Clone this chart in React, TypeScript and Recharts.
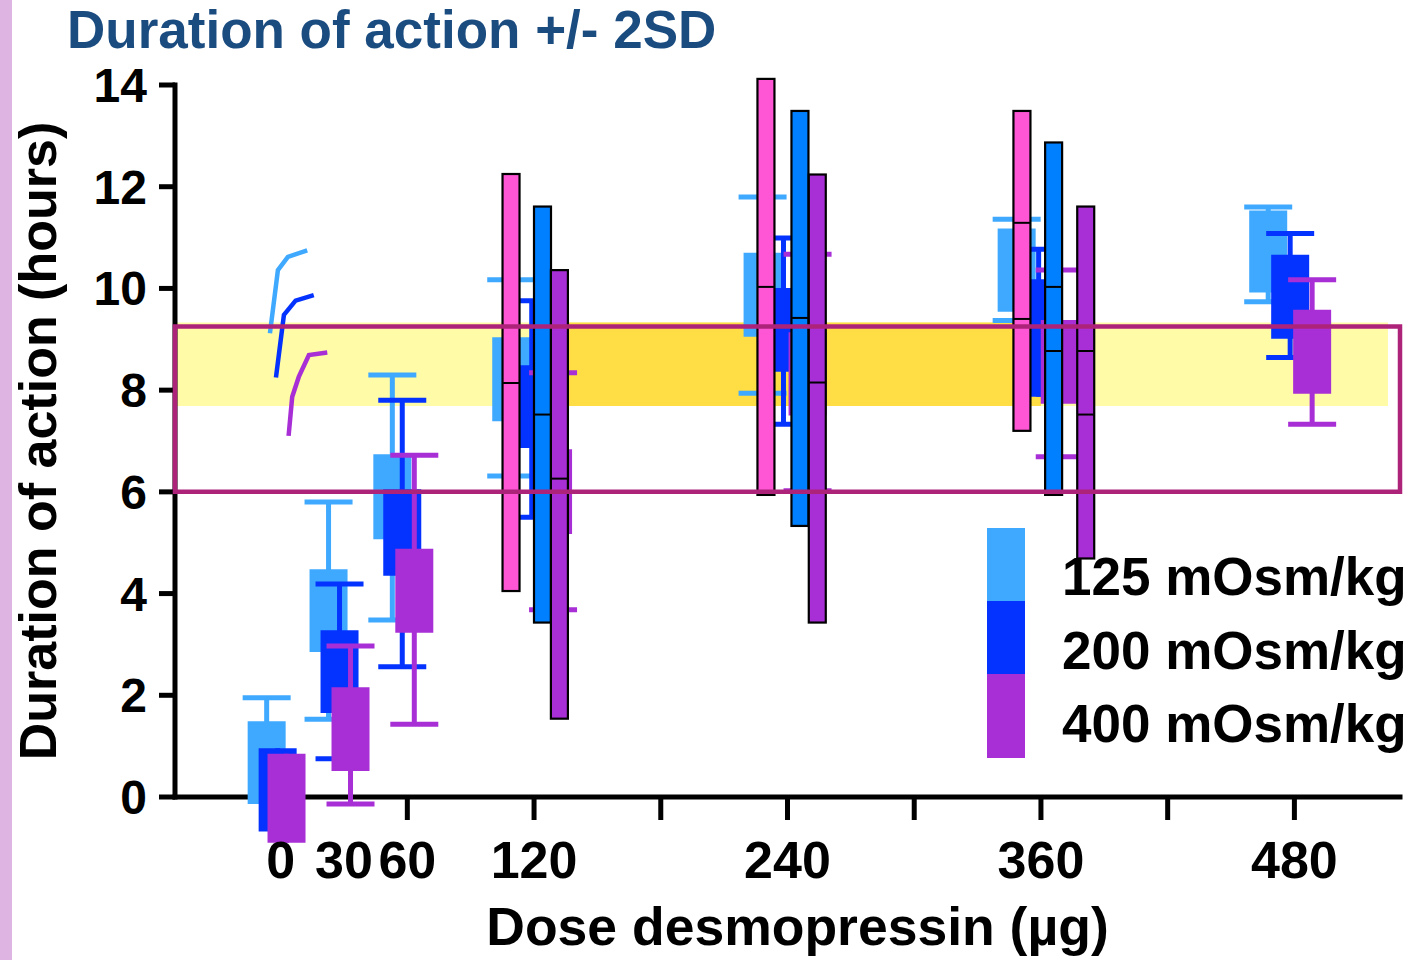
import React from 'react';
import {
  ComposedChart,
  XAxis,
  YAxis,
  Scatter,
  ErrorBar,
  Bar,
  Line,
  ReferenceArea,
  Label,
} from 'recharts';

const FONT = '"Liberation Sans", Arial, Helvetica, sans-serif';

// dose axis (µg)
const doseLabels = [0, 30, 60, 120, 240, 360, 480];
const doseTickMarks = [60, 120, 180, 240, 300, 360, 420, 480];
const hourTicks = [0, 2, 4, 6, 8, 10, 12, 14];

// 125 mOsm/kg: box position, box low/high, -/+ 2SD ends (hours)
const x125 = [-6.6, 22.7, 52.9, 109.2, 228.2, 348.5, 467.6];
const boxLow125 = [-0.14, 2.85, 5.07, 7.39, 9.05, 9.54, 9.92];
const boxHigh125 = [1.49, 4.48, 6.74, 9.04, 10.7, 11.18, 11.53];
const sdLow125 = [null, 1.53, 3.48, 6.31, 7.94, 9.37, 9.74];
const sdHigh125 = [1.95, 5.8, 8.3, 10.17, 11.8, 11.36, 11.6];

// 200 mOsm/kg
const x200 = [-1.4, 27.9, 57.6, 118.9, 238.1, 358.9, 478];
const boxLow200 = [-0.68, 1.65, 4.35, 6.86, 8.36, 7.87, 9.01];
const boxHigh200 = [0.96, 3.28, 6.05, 8.49, 10.01, 10.18, 10.66];
const sdLow200 = [null, 0.75, 2.56, 5.5, 7.33, null, 8.64];
const sdHigh200 = [null, 4.19, 7.8, 9.76, 10.99, 10.77, 11.08];

// 400 mOsm/kg
const x400 = [2.8, 33.1, 63.3, 129.0, 249.5, 368.9, 488.4];
const boxLow400 = [-0.9, 0.51, 3.23, 5.17, 7.5, 7.73, 7.93];
const boxHigh400 = [0.85, 2.16, 4.88, 6.84, 9.14, 9.38, 9.58];
const sdLow400 = [null, -0.14, 1.43, 3.68, 6.02, 6.69, 7.33];
const sdHigh400 = [null, 2.97, 6.72, 8.34, 10.67, 10.36, 10.17];

// hand-drawn traces near 0 µg
const traceX125 = [-5.05, -1.28, 3.45, 12.6];
const traceY125 = [9.12, 10.36, 10.62, 10.75];
const traceX200 = [-2.2, 1.57, 7.09, 15.7];
const traceY200 = [8.25, 9.48, 9.76, 9.87];
const traceX400 = [3.78, 5.5, 8.6, 13.4, 22.1];
const traceY400 = [7.1, 7.87, 8.26, 8.69, 8.74];

// outlined range bars at 120 / 240 / 360 µg
const pinkX = [109.1, 229.8, 351.0];
const pinkLow = [4.05, 5.94, 7.2];
const pinkHigh = [12.25, 14.12, 13.49];
const pinkMarks = [[8.14], [10.03], [11.29, 9.4]];
const cyanX = [124.0, 245.9, 366.0];
const cyanLow = [3.43, 5.33, 5.94];
const cyanHigh = [11.61, 13.49, 12.87];
const cyanMarks = [[7.52], [9.42], [10.03, 8.77]];
const violetX = [132.0, 254.1, 381.2];
const violetLow = [1.54, 3.43, 4.69];
const violetHigh = [10.36, 12.24, 11.61];
const violetMarks = [[6.26], [8.15], [8.77, 7.52]];

// target window and shaded band
const targetLow = 6.0;
const targetHigh = 9.25;
const bandLow = 7.69;
const bandHigh = 9.33;
const bandEnd = 524.3;
const bandDarkStart = 120;
const bandDarkEnd = 360;

const legendNames = ['125 mOsm/kg', '200 mOsm/kg', '400 mOsm/kg'];

const COLORS: Record<string, string> = {
  s125: '#3FA9FF',
  s200: '#0433FF',
  s400: '#A82FD6',
  pink: '#FF56D6',
  cyan: '#0080FF',
  violet: '#A82FD6',
};

type Num = number | null;

function boxRows(xs: number[], lo: number[], hi: number[], sdLo: Num[], sdHi: Num[]) {
  return xs.map((x, i) => {
    const mid = (lo[i] + hi[i]) / 2;
    const a = sdLo[i] ?? lo[i];
    const b = sdHi[i] ?? hi[i];
    return { x, y: mid, box: [mid - lo[i], hi[i] - mid], sd: [mid - a, b - mid] };
  });
}

function capRows(xs: number[], sdLo: Num[], sdHi: Num[]) {
  const rows: { x: number; y: number }[] = [];
  xs.forEach((x, i) => {
    if (sdLo[i] != null) rows.push({ x, y: sdLo[i] as number });
    if (sdHi[i] != null) rows.push({ x, y: sdHi[i] as number });
  });
  return rows;
}

function traceRows(xs: number[], ys: number[]) {
  return xs.map((x, i) => ({ x, y: ys[i] }));
}

const series = [
  { key: 's125', boxes: boxRows(x125, boxLow125, boxHigh125, sdLow125, sdHigh125), caps: capRows(x125, sdLow125, sdHigh125) },
  { key: 's200', boxes: boxRows(x200, boxLow200, boxHigh200, sdLow200, sdHigh200), caps: capRows(x200, sdLow200, sdHigh200) },
  { key: 's400', boxes: boxRows(x400, boxLow400, boxHigh400, sdLow400, sdHigh400), caps: capRows(x400, sdLow400, sdHigh400) },
];

const traces = [
  { key: 's125', data: traceRows(traceX125, traceY125) },
  { key: 's200', data: traceRows(traceX200, traceY200) },
  { key: 's400', data: traceRows(traceX400, traceY400) },
];

const rangeRows: { x: number; range: number[]; kind: string }[] = [];
const markRows: { x: number; y: number }[] = [];
[0, 1, 2].forEach((g) => {
  [
    { kind: 'pink', xs: pinkX, lo: pinkLow, hi: pinkHigh, marks: pinkMarks },
    { kind: 'cyan', xs: cyanX, lo: cyanLow, hi: cyanHigh, marks: cyanMarks },
    { kind: 'violet', xs: violetX, lo: violetLow, hi: violetHigh, marks: violetMarks },
  ].forEach((s) => {
    rangeRows.push({ x: s.xs[g], range: [s.lo[g], s.hi[g]], kind: s.kind });
    s.marks[g].forEach((m) => markRows.push({ x: s.xs[g], y: m }));
  });
});

const allDoseTicks = Array.from(new Set([...doseLabels, ...doseTickMarks])).sort((a, b) => a - b);

const RANGE_W = 17;

const hidden = () => <g />;

const capShape = (color: string) => (props: any) => (
  <line x1={props.cx - 24} x2={props.cx + 24} y1={props.cy} y2={props.cy} stroke={color} strokeWidth={5} />
);

const markShape = (props: any) => (
  <line x1={props.cx - RANGE_W / 2} x2={props.cx + RANGE_W / 2} y1={props.cy} y2={props.cy} stroke="#000" strokeWidth={2} />
);

// outlined range bar, centred on the bar's x position
const rangeShape = (props: any) => {
  const { x, y, width, height, payload } = props;
  const cx = x + (width || 0) / 2;
  const top = Math.min(y, y + height);
  return (
    <rect
      x={cx - RANGE_W / 2}
      y={top}
      width={RANGE_W}
      height={Math.abs(height)}
      fill={COLORS[payload.kind]}
      stroke="#000"
      strokeWidth={2.2}
    />
  );
};

function renderDoseTick(props: any) {
  const { x, y, payload } = props;
  const v = payload.value;
  return (
    <g>
      {doseTickMarks.includes(v) && <line x1={x} x2={x} y1={y} y2={y + 23} stroke="#000" strokeWidth={5} />}
      {doseLabels.includes(v) && (
        <text x={x} y={y + 81} textAnchor="middle" fontSize={52} fontWeight="bold" fill="#000">
          {v}
        </text>
      )}
    </g>
  );
}

export default function App() {
  let z = 600;
  return (
    <div style={{ position: 'relative', width: 1410, height: 960, fontFamily: FONT, background: '#fff' }}>
      <style>{'body{margin:0}.recharts-wrapper [clip-path]{clip-path:none !important}'}</style>
      <ComposedChart width={1410} height={960} data={rangeRows} margin={{ top: 85, right: 10, bottom: 63, left: 0 }}>
        <XAxis
          dataKey="x"
          type="number"
          domain={[-50, 530]}
          allowDataOverflow
          ticks={allDoseTicks}
          interval={0}
          tick={renderDoseTick}
          tickLine={false}
          tickSize={0}
          tickMargin={0}
          height={100}
          axisLine={{ stroke: '#000', strokeWidth: 5, strokeLinecap: 'square' }}
        >
          <Label
            value="Dose desmopressin (µg)"
            position="bottom"
            offset={10}
            dx={10}
            style={{ fontSize: 53.5, fontWeight: 'bold', fill: '#000' }}
          />
        </XAxis>
        <YAxis
          type="number"
          domain={[0, 14]}
          allowDataOverflow
          ticks={hourTicks}
          interval={0}
          width={175}
          tickSize={16}
          tickMargin={12}
          tick={{ fontSize: 48, fontWeight: 'bold', fill: '#000' }}
          tickLine={{ stroke: '#000', strokeWidth: 5 }}
          axisLine={{ stroke: '#000', strokeWidth: 5, strokeLinecap: 'square' }}
        >
          <Label
            value="Duration of action (hours)"
            angle={-90}
            position="insideLeft"
            offset={38}
            style={{ textAnchor: 'middle', fontSize: 52, fontWeight: 'bold', fill: '#000' }}
          />
        </YAxis>

        <ReferenceArea x1={-50} x2={bandEnd} y1={bandLow} y2={bandHigh} fill="#FFFBA6" fillOpacity={1} stroke="none" zIndex={50} />
        <ReferenceArea x1={bandDarkStart} x2={bandDarkEnd} y1={bandLow} y2={bandHigh} fill="#FFDD44" fillOpacity={1} stroke="none" zIndex={51} />

        {traces.map((t) => (
          <Line
            key={'trace' + t.key}
            data={t.data}
            dataKey="y"
            type="linear"
            stroke={COLORS[t.key]}
            strokeWidth={4.5}
            dot={false}
            activeDot={false}
            isAnimationActive={false}
            zIndex={590}
          />
        ))}

        {series.flatMap((s) => {
          const zBox = ++z;
          const zCap = ++z;
          return [
            <Scatter key={'box' + s.key} data={s.boxes} dataKey="y" shape={hidden} isAnimationActive={false} zIndex={zBox}>
              <ErrorBar dataKey="sd" direction="y" width={0} stroke={COLORS[s.key]} strokeWidth={5} isAnimationActive={false} zIndex={zBox} />
              <ErrorBar dataKey="box" direction="y" width={0} stroke={COLORS[s.key]} strokeWidth={38} isAnimationActive={false} zIndex={zBox} />
            </Scatter>,
            <Scatter key={'cap' + s.key} data={s.caps} dataKey="y" shape={capShape(COLORS[s.key])} isAnimationActive={false} zIndex={zCap} />,
          ];
        })}

        <Bar dataKey="range" shape={rangeShape} isAnimationActive={false} zIndex={610} />
        <Scatter data={markRows} dataKey="y" shape={markShape} isAnimationActive={false} zIndex={620} />

        <ReferenceArea
          x1={-50}
          x2={530}
          y1={targetLow}
          y2={targetHigh}
          fill="none"
          stroke="#AE237A"
          strokeWidth={4.5}
          zIndex={630}
        />
      </ComposedChart>

      <svg width={1410} height={960} style={{ position: 'absolute', left: 0, top: 0, pointerEvents: 'none' }}>
        <rect x={0} y={0} width={12} height={960} fill="#DDB4E2" />
        <text x={67} y={48} fontSize={53} fontWeight="bold" fill="#1B4C80">
          Duration of action +/- 2SD
        </text>
        {legendNames.map((name, i) => (
          <g key={name}>
            <rect x={987} y={528 + i * 73} width={38} height={i === 2 ? 84 : 73} fill={COLORS[series[i].key]} />
            <text x={1062} y={595 + i * 73.5} fontSize={53} fontWeight="bold" fill="#000">
              {name}
            </text>
          </g>
        ))}
      </svg>
    </div>
  );
}
